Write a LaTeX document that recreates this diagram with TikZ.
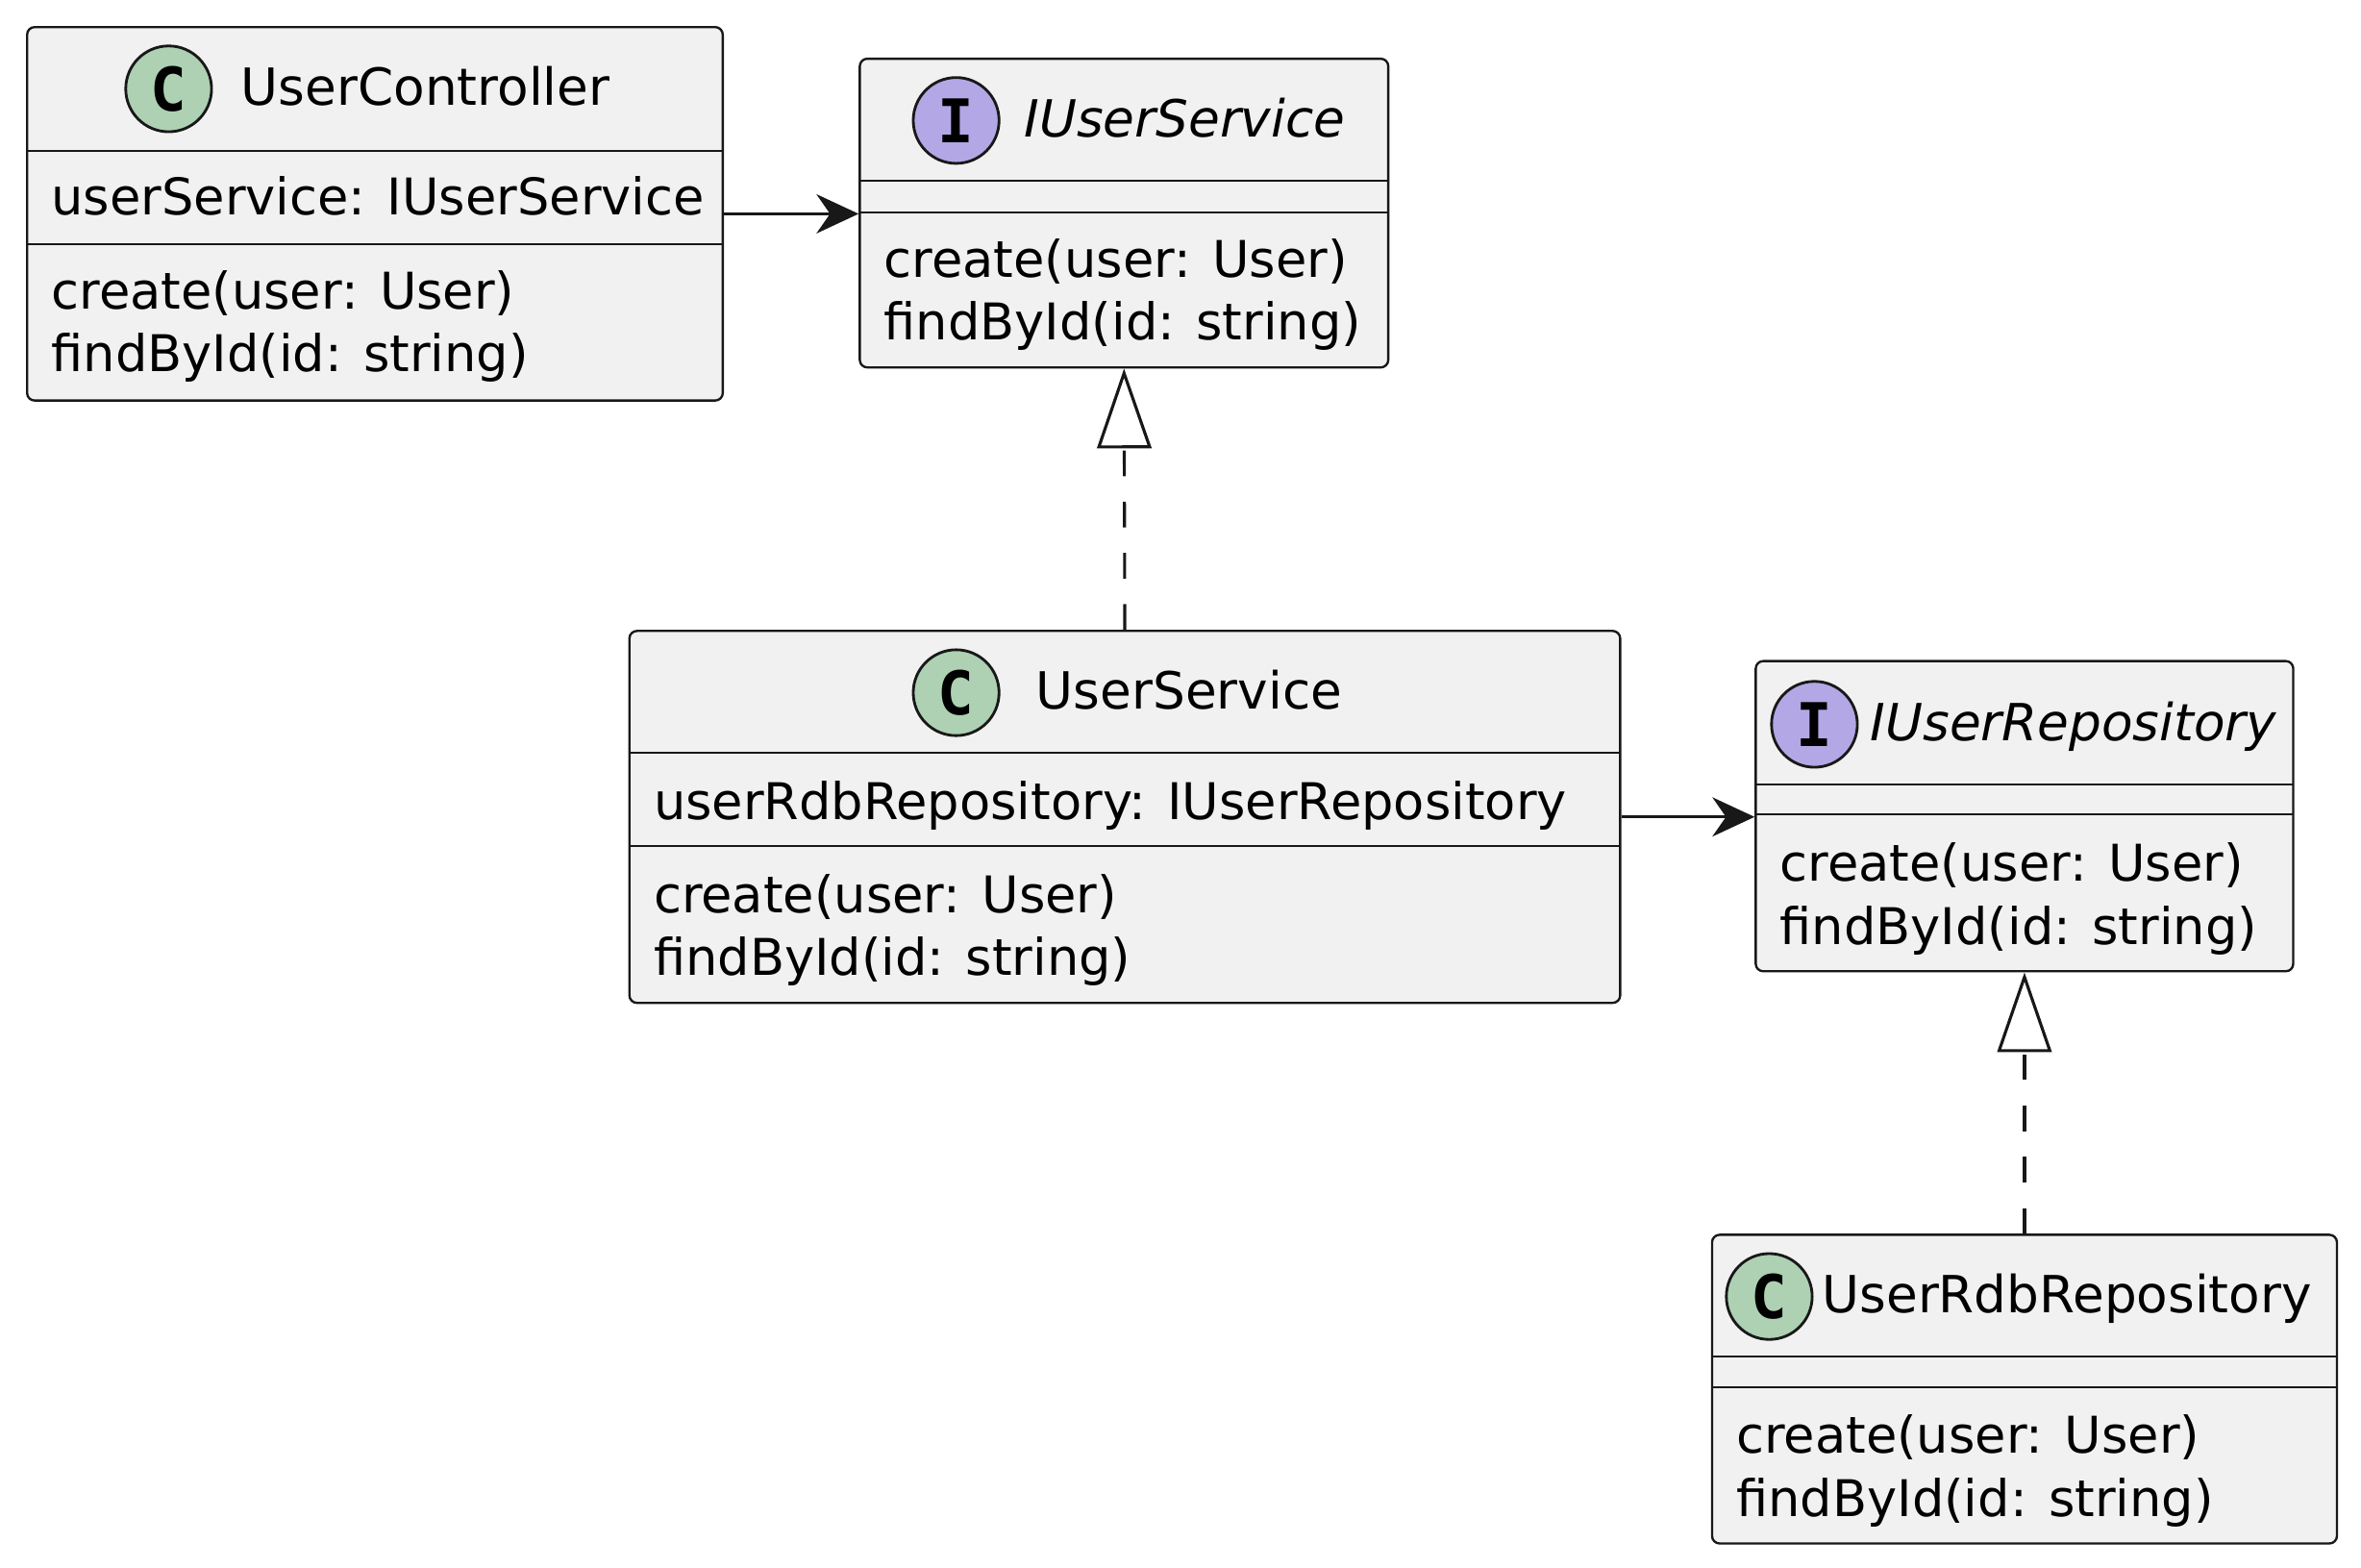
\documentclass[tikz,border=0pt]{standalone}
\usepackage{fontspec}
\setmainfont{DejaVu Sans}
\newfontfamily\spotfont{DejaVu Sans Mono}
\usetikzlibrary{arrows.meta}

\definecolor{boxfill}{HTML}{F1F1F1}
\definecolor{boxline}{HTML}{181818}
\definecolor{classspot}{HTML}{ADD1B2}
\definecolor{ifacespot}{HTML}{B4A7E5}

\begin{document}
\begin{tikzpicture}[x=1pt, y=-1pt,
  box/.style={draw=boxline, fill=boxfill, line width=1.5pt, rounded corners=5pt, inner sep=0pt},
  spot/.style={circle, draw=boxline, line width=1.8pt, minimum size=57pt, inner sep=0pt, font=\spotfont\bfseries\fontsize{40}{40}\selectfont},
  title/.style={anchor=base west, inner sep=0pt, font=\fontsize{34}{40}\selectfont},
  member/.style={anchor=base west, inner sep=0pt, font=\fontsize{33.6}{40}\selectfont},
  sep/.style={boxline, line width=1.2pt},
  assoc/.style={-{Stealth[length=28pt, width=26pt, inset=9pt]}, boxline, line width=2pt},
  realize/.style={-{Triangle[open, length=53pt, width=36pt]}, boxline, line width=2pt, dash pattern=on 17pt off 17pt}]

\useasboundingbox (0,0) rectangle (1568,1041);

% UserController
\node[box, minimum width=462pt, minimum height=248pt] (ctrl) at (249,142) {};
\node[spot, fill=classspot] (ctrlspot) at (112,59) {C};
\node[title] (ctrltitle) at (160,70) {UserController};
\draw[sep] (18,100) -- (480,100);
\node[member] (ctrlattr) at (34,143) {userService: IUserService};
\draw[sep] (18,162) -- (480,162);
\node[member] (ctrlcreate) at (34,205) {create(user: User)};
\node[member] (ctrlfind) at (34,247) {findById(id: string)};

% IUserService
\node[box, minimum width=351pt, minimum height=205pt] (isvc) at (746.5,141.5) {};
\node[spot, fill=ifacespot] (isvcspot) at (635,80) {I};
\node[title, font=\fontsize{34}{40}\selectfont\itshape] (isvctitle) at (680,91) {IUserService};
\draw[sep] (571,120) -- (922,120);
\draw[sep] (571,141) -- (922,141);
\node[member] (isvccreate) at (587,184) {create(user: User)};
\node[member] (isvcfind) at (587,226) {findById(id: string)};

% UserService
\node[box, minimum width=658pt, minimum height=247pt] (usvc) at (747,542.5) {};
\node[spot, fill=classspot] (usvcspot) at (635,460) {C};
\node[title] (usvctitle) at (688,471) {UserService};
\draw[sep] (418,500) -- (1076,500);
\node[member] (usvcattr) at (434,544) {userRdbRepository: IUserRepository};
\draw[sep] (418,562) -- (1076,562);
\node[member] (usvccreate) at (434,606) {create(user: User)};
\node[member] (usvcfind) at (434,648) {findById(id: string)};

% IUserRepository
\node[box, minimum width=357pt, minimum height=206pt] (irepo) at (1344.5,542) {};
\node[spot, fill=ifacespot] (ireposspot) at (1205,481) {I};
\node[title, font=\fontsize{34}{40}\selectfont\itshape] (irepotitle) at (1242,492) {IUserRepository};
\draw[sep] (1166,521) -- (1523,521);
\draw[sep] (1166,541) -- (1523,541);
\node[member] (irepocreate) at (1182,585) {create(user: User)};
\node[member] (irepofind) at (1182,627) {findById(id: string)};

% UserRdbRepository
\node[box, minimum width=415pt, minimum height=205pt] (rdb) at (1344.5,922.5) {};
\node[spot, fill=classspot] (rdbspot) at (1175,861) {C};
\node[title] (rdbtitle) at (1210,872) {UserRdbRepository};
\draw[sep] (1137,901) -- (1552,901);
\draw[sep] (1137,921) -- (1552,921);
\node[member] (rdbcreate) at (1153,965) {create(user: User)};
\node[member] (rdbfind) at (1153,1007) {findById(id: string)};

% relations
\draw[assoc] (ctrl.east) -- (ctrl.east -| isvc.west);
\draw[assoc] (usvc.east) -- (usvc.east -| irepo.west);
\draw[realize] (usvc.north) -- (isvc.south);
\draw[realize] (rdb.north) -- (irepo.south);
\end{tikzpicture}
\end{document}
